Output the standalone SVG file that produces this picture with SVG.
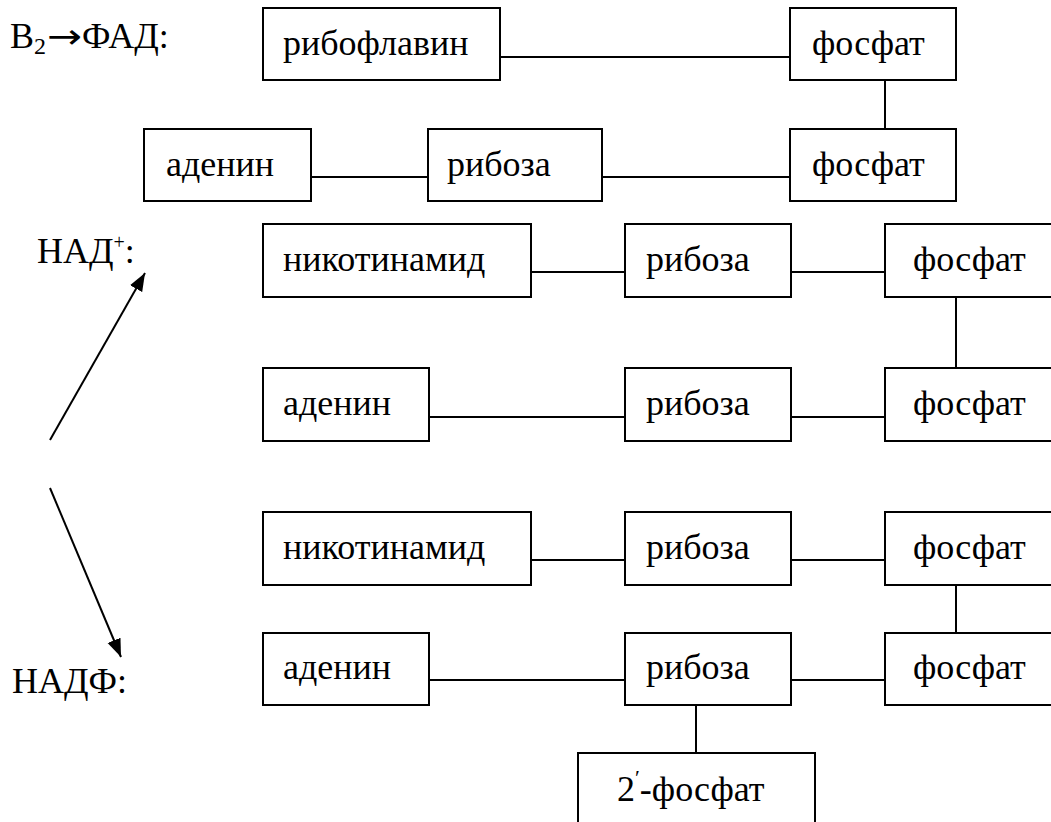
<svg xmlns="http://www.w3.org/2000/svg" width="1051" height="822" viewBox="0 0 1051 822">
<style>
  .box { fill: #fff; stroke: #000; stroke-width: 2; }
  .t { font-family: "Liberation Serif", "Times New Roman", serif; font-size: 36px; fill: #000; }
  .ln { stroke: #000; stroke-width: 2; fill: none; }
</style>
<defs>
  <marker id="ah" markerUnits="userSpaceOnUse" markerWidth="20" markerHeight="16" refX="18" refY="8" orient="auto">
    <path d="M0,1 L18,8 L0,15 Z" fill="#000"/>
  </marker>
</defs>
<rect width="1051" height="822" fill="#fff"/>

<g id="labels">
  <text class="t" x="10" y="48">B<tspan font-size="24" dy="6">2</tspan></text>
  <text x="47" y="48" font-family="DejaVu Sans, sans-serif" font-size="34px" fill="#000" textLength="35" lengthAdjust="spacingAndGlyphs">→</text>
  <text class="t" x="82" y="48">ФАД:</text>
  <text class="t" x="37" y="263">НАД<tspan font-size="20" dy="-14">+</tspan><tspan dy="14">:</tspan></text>
  <text class="t" x="12" y="693">НАДФ:</text>
</g>

<g id="connectors">
  <line class="ln" x1="500" y1="57" x2="790" y2="57"/>
  <line class="ln" x1="885" y1="80" x2="885" y2="129"/>
  <line class="ln" x1="311" y1="177" x2="428" y2="177"/>
  <line class="ln" x1="602" y1="177" x2="790" y2="177"/>

  <line class="ln" x1="531" y1="272" x2="625" y2="272"/>
  <line class="ln" x1="791" y1="272" x2="885" y2="272"/>
  <line class="ln" x1="956" y1="297" x2="956" y2="368"/>
  <line class="ln" x1="429" y1="417" x2="625" y2="417"/>
  <line class="ln" x1="791" y1="417" x2="885" y2="417"/>

  <line class="ln" x1="531" y1="560" x2="625" y2="560"/>
  <line class="ln" x1="791" y1="560" x2="885" y2="560"/>
  <line class="ln" x1="956" y1="585" x2="956" y2="633"/>
  <line class="ln" x1="429" y1="680" x2="625" y2="680"/>
  <line class="ln" x1="791" y1="680" x2="885" y2="680"/>
  <line class="ln" x1="696" y1="705" x2="696" y2="753"/>

  <line class="ln" x1="50" y1="440" x2="145" y2="273" marker-end="url(#ah)"/>
  <line class="ln" x1="50" y1="488" x2="121" y2="657" marker-end="url(#ah)"/>
</g>

<g id="fad-riboflavin"><rect class="box" x="263" y="8" width="237" height="72"/><text class="t" x="283" y="55">рибофлавин</text></g>
<g id="fad-phosphate1"><rect class="box" x="790" y="8" width="166" height="72"/><text class="t" x="812" y="55">фосфат</text></g>
<g id="fad-adenine"><rect class="box" x="144" y="129" width="167" height="72"/><text class="t" x="166" y="176">аденин</text></g>
<g id="fad-ribose"><rect class="box" x="428" y="129" width="174" height="72"/><text class="t" x="447" y="176">рибоза</text></g>
<g id="fad-phosphate2"><rect class="box" x="790" y="129" width="166" height="72"/><text class="t" x="812" y="176">фосфат</text></g>

<g id="nad-nicotinamide"><rect class="box" x="263" y="224" width="268" height="73"/><text class="t" x="283" y="271">никотинамид</text></g>
<g id="nad-ribose1"><rect class="box" x="625" y="224" width="166" height="73"/><text class="t" x="646" y="271">рибоза</text></g>
<g id="nad-phosphate1"><rect class="box" x="885" y="224" width="180" height="73"/><text class="t" x="913" y="271">фосфат</text></g>
<g id="nad-adenine"><rect class="box" x="263" y="368" width="166" height="73"/><text class="t" x="283" y="415">аденин</text></g>
<g id="nad-ribose2"><rect class="box" x="625" y="368" width="166" height="73"/><text class="t" x="646" y="415">рибоза</text></g>
<g id="nad-phosphate2"><rect class="box" x="885" y="368" width="180" height="73"/><text class="t" x="913" y="415">фосфат</text></g>

<g id="nadp-nicotinamide"><rect class="box" x="263" y="512" width="268" height="73"/><text class="t" x="283" y="559">никотинамид</text></g>
<g id="nadp-ribose1"><rect class="box" x="625" y="512" width="166" height="73"/><text class="t" x="646" y="559">рибоза</text></g>
<g id="nadp-phosphate1"><rect class="box" x="885" y="512" width="180" height="73"/><text class="t" x="913" y="559">фосфат</text></g>
<g id="nadp-adenine"><rect class="box" x="263" y="633" width="166" height="72"/><text class="t" x="283" y="679">аденин</text></g>
<g id="nadp-ribose2"><rect class="box" x="625" y="633" width="166" height="72"/><text class="t" x="646" y="679">рибоза</text></g>
<g id="nadp-phosphate2"><rect class="box" x="885" y="633" width="180" height="72"/><text class="t" x="913" y="679">фосфат</text></g>
<g id="nadp-2phosphate"><rect class="box" x="578" y="753" width="237" height="80"/><text class="t" x="617" y="801">2<tspan font-size="22" dy="-16">′</tspan><tspan dy="16">-фосфат</tspan></text></g>
</svg>
